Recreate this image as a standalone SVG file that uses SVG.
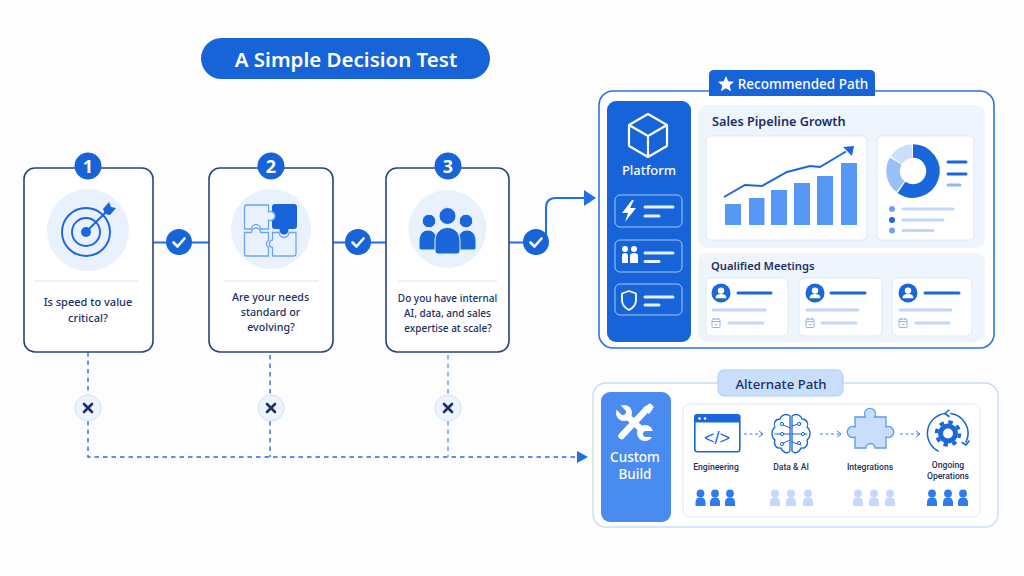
<svg xmlns="http://www.w3.org/2000/svg" width="1024" height="576" viewBox="0 0 1024 576">
<style>
text{font-family:"Noto Sans","Liberation Sans",sans-serif;font-weight:500;text-anchor:middle;fill:#1b2f63}
.card{fill:#fff;stroke:#27447f;stroke-width:1.6}
.halo{fill:#e9f1fd}
.div{stroke:#d3e2f8;stroke-width:1}
.q{font-size:10.7px}
.num{font-size:18px;font-weight:700;fill:#fff}
.badge{fill:#1763d8}
.solid{fill:none;stroke:#1f6fe6;stroke-width:2}
.dash{fill:none;stroke:#1f6fe6;stroke-width:1.4;stroke-dasharray:4.5 4}
.ok{fill:#1763d8}
.tick{fill:none;stroke:#fff;stroke-width:2.6;stroke-linecap:round;stroke-linejoin:round}
.xc{fill:#eef4fd;stroke:#cfe0f9;stroke-width:1}
.xm{fill:none;stroke:#1b2f63;stroke-width:2.6;stroke-linecap:round}
.ic{fill:none;stroke:#1a66db;stroke-width:1.6;stroke-linejoin:round;stroke-linecap:round}
.wl{fill:none;stroke:#fff;stroke-width:2.2;stroke-linecap:round;stroke-linejoin:round}
.sub{fill:#eff5fd}
.white{fill:#fff;stroke:#dce8fa;stroke-width:1}
.h{font-size:12.7px;font-weight:600;text-anchor:start}
.bar{fill:#5797f5}
.ld{stroke:#1a66db;stroke-width:3;stroke-linecap:round}
.ll{stroke:#c1d8fa;stroke-width:3;stroke-linecap:round}
.cal{fill:none;stroke:#8db5f0;stroke-width:1}
.small{font-family:Roboto,"Noto Sans",sans-serif;font-size:8.6px}
.arr{fill:none;stroke:#3b80ea;stroke-width:1;stroke-dasharray:3 2.5}
.arh{fill:none;stroke:#3b80ea;stroke-width:1}
.pz{fill:#e9f1fd;stroke:#6ea3f3;stroke-width:1.3}
</style>
<defs>
<marker id="tri" markerWidth="12" markerHeight="16" refX="0" refY="8" orient="auto" markerUnits="userSpaceOnUse"><path d="M0 0L12 8L0 16Z" fill="#1f6fe6"/></marker>
<marker id="tri2" markerWidth="11" markerHeight="12" refX="0" refY="6" orient="auto" markerUnits="userSpaceOnUse"><path d="M0 0L11 6L0 12Z" fill="#1f6fe6"/></marker>
<g id="avatar"><circle r="9.5" fill="#1a66db"/><circle cy="-2.4" r="3.2" fill="#fff"/><path d="M-5.4 5.2C-5.4 1.6-2.8 .9 0 .9S5.4 1.6 5.4 5.2Z" fill="#fff"/></g>
<g id="cal"><rect x="-4" y="-4" width="8" height="8.5" rx="1" class="cal"/><path d="M-4-1.5H4M-2-5.2V-3M2-5.2V-3M-1 1.5H1.5" class="cal"/></g>
<g id="one"><circle cy="-5.5" r="3.9"/><path d="M-5 7V3.500C-5-.2-2.600-1.500 0-1.500S5-.2 5 3.500V7Z"/></g>
</defs>
<rect width="1024" height="576" fill="#fdfdfe"/>

<g id="title"><rect x="201" y="38" width="289" height="41" rx="20.500" fill="#1763d8"/><text x="346" y="67" style="font-size:20.500px;font-weight:600;fill:#fff">A Simple Decision Test</text></g>

<g id="connectors">
<path class="solid" d="M153 242.500H209M333 242.500H386M509 242.500H536"/>
<path class="solid" d="M546 240V208Q546 198 556 198H584" marker-end="url(#tri)"/>
<path class="dash" d="M88 352V395M88 421V457H577" marker-end="url(#tri2)"/>
<path class="dash" d="M270 355V395M270 421V457"/>
<path class="dash" d="M448 355V395M448 421V457" style="stroke:#5f9bf3"/>
</g>

<g id="step1">
<rect class="card" x="24" y="168" width="129" height="184" rx="11"/>
<circle class="badge" cx="88" cy="166" r="13.500"/><text class="num" x="88" y="172.500">1</text>
<circle class="halo" cx="88" cy="230" r="41"/>
<g class="ic" style="stroke-width:1.900"><circle cx="86" cy="232" r="24"/><circle cx="86" cy="232" r="14"/><path d="M86 232L108 210"/></g>
<circle cx="86" cy="232" r="5" fill="#1a66db"/>
<path d="M103 209L109 202L111 207L116 208L110 215L105 214Z" fill="#1a66db"/>
<line class="div" x1="35" y1="281" x2="139" y2="281"/>
<text class="q" x="88" y="306" style="font-size:11px">Is speed to value</text><text class="q" x="88" y="321.500" style="font-size:11px">critical?</text>
</g>

<g id="step2">
<rect class="card" x="209" y="168" width="124" height="184" rx="11"/>
<circle class="badge" cx="271" cy="166" r="13.500"/><text class="num" x="271" y="172.500">2</text>
<circle class="halo" cx="271" cy="229" r="40"/>
<path class="pz" d="M272.500 232.500H279A5 5 0 0 0 289 232.500H296V253.500Q296 256 293.500 256H272.500V247.500A3.800 3.800 0 0 1 272.500 240Z"/>
<path class="pz" d="M244.500 232.500H251.500A4.500 4.500 0 0 1 260.500 232.500H268.500V240.500A3.500 3.500 0 0 0 268.500 247V256H247Q244.500 256 244.500 253.500Z"/>
<rect x="272" y="204" width="25" height="25" rx="3" fill="#1763d8"/>
<circle cx="284" cy="230" r="4.500" fill="#1763d8"/>
<path class="pz" d="M247 205H268.500V212A4.500 4.500 0 1 1 268.500 220V229H260.500A4.500 4.500 0 0 0 251.500 229H244.500V207.500Q244.500 205 247 205Z"/>
<line class="div" x1="224" y1="281" x2="319" y2="281"/>
<text class="q" x="270.500" y="301">Are your needs</text><text class="q" x="270.500" y="316">standard or</text><text class="q" x="271" y="331">evolving?</text>
</g>

<g id="step3">
<rect class="card" x="386" y="168" width="123" height="184" rx="11"/>
<circle class="badge" cx="448" cy="166" r="13.500"/><text class="num" x="448" y="172.500">3</text>
<circle class="halo" cx="447.500" cy="229" r="39"/>
<g fill="#1a66db" stroke="#e9f1fd" stroke-width="1">
<circle cx="429" cy="221" r="6.800"/><circle cx="466" cy="221" r="6.800"/>
<path d="M419 248V241C419 234 423 230 428 230S437 234 437 241V250H421Q419 250 419 248Z"/>
<path d="M476 248V241C476 234 472 230 467 230S458 234 458 241V250H474Q476 250 476 248Z"/>
<circle cx="447.500" cy="216" r="8.500"/>
<path d="M435 251V241C435 232 441 227.500 447.500 227.500S460 232 460 241V251Q460 254 457 254H438Q435 254 435 251Z"/>
</g>
<line class="div" x1="398" y1="281" x2="497" y2="281"/>
<text class="q" x="447.500" y="301.500" style="font-size:10px">Do you have internal</text><text class="q" x="447.500" y="317" style="font-size:10px">AI, data, and sales</text><text class="q" x="448" y="331.500" style="font-size:10px">expertise at scale?</text>
</g>

<g id="check1"><circle class="ok" cx="179" cy="242" r="13"/><path class="tick" d="M173.500 242.500L177.500 246.500L184.500 238.500"/></g>
<g id="check2"><circle class="ok" cx="358" cy="242" r="13"/><path class="tick" d="M352.500 242.500L356.500 246.500L363.500 238.500"/></g>
<g id="check3"><circle class="ok" cx="536" cy="242" r="13"/><path class="tick" d="M530.500 242.500L534.500 246.500L541.500 238.500"/></g>

<g id="cross1"><circle class="xc" cx="88" cy="408" r="13"/><path class="xm" d="M84 404L92 412M92 404L84 412"/></g>
<g id="cross2"><circle class="xc" cx="271" cy="408" r="13"/><path class="xm" d="M267 404L275 412M275 404L267 412"/></g>
<g id="cross3"><circle class="xc" cx="448" cy="408" r="13"/><path class="xm" d="M444 404L452 412M452 404L444 412"/></g>

<g id="recommended">
<rect x="599" y="91" width="395" height="257" rx="14" fill="#fff" stroke="#2a74e4" stroke-width="1.600"/>
<path d="M709 96V75Q709 70 714 70H870Q875 70 875 75V96Z" fill="#1763d8"/>
<path d="M726 76L728.300 81.300L734 81.800L729.700 85.600L731 91.200L726 88.300L721 91.200L722.300 85.600L718 81.800L723.700 81.300Z" fill="#fff"/>
<text x="803" y="89" style="font-size:13.500px;fill:#fff">Recommended Path</text>

<rect x="607" y="101" width="84" height="241" rx="9" fill="#1763d8"/>
<path class="wl" d="M648 114L667 125V146L648 157L629 146V125ZM629 125L648 136L667 125M648 136V157"/>
<text x="649" y="174.500" style="font-size:13px;fill:#fff">Platform</text>
<g fill="none" stroke="#a9c9f7" stroke-width="1"><rect x="615" y="195" width="67" height="32" rx="5"/><rect x="615" y="240" width="67" height="32" rx="5"/><rect x="615" y="284" width="67" height="31" rx="5"/></g>
<path d="M632 200L622 213H628L625 222L636 208H630L634 200Z" fill="#fff"/>
<g fill="#fff"><circle cx="625" cy="249" r="3"/><circle cx="634" cy="249" r="3"/><path d="M622 263V256Q622 253 625 253T628 256V263ZM630 263V256Q630 253 634 253T638 256V263Z"/></g>
<path class="wl" style="stroke-width:1.800" d="M629 291L636 293.500V300C636 305 633 308 629 310C625 308 622 305 622 300V293.500Z"/>
<path class="wl" style="stroke-width:3;stroke:#e6f0fe" d="M645 207H673M645 216H659M645 253H673M645 261.500H659M645 297H673M645 305H659"/>

<rect class="sub" x="698" y="105" width="287" height="143" rx="9"/>
<text class="h" x="712" y="126">Sales Pipeline Growth</text>
<rect class="white" x="706" y="136" width="161" height="104" rx="4"/>
<rect class="white" x="877" y="136" width="97" height="104" rx="4"/>
<rect class="bar" x="725" y="204" width="16" height="21"/><rect class="bar" x="749" y="198" width="15.500" height="27"/><rect class="bar" x="771" y="190" width="16" height="35"/><rect class="bar" x="794" y="183" width="16" height="42"/><rect class="bar" x="817" y="176" width="16" height="49"/><rect class="bar" x="841" y="163" width="16" height="62"/>
<path d="M724 197L745 185L762 186L787 172L810 166L820 167L846 151.500" fill="none" stroke="#1a66db" stroke-width="2"/>
<path d="M854 146L843 147L852 156Z" fill="#1a66db"/>
<g fill="none" stroke-width="13.500">
<path d="M913 151A20 20 0 1 1 901.500 187.400" stroke="#1a66db"/>
<path d="M900.500 186.600A20 20 0 0 1 895.700 161" stroke="#9ac0f8"/>
<path d="M896.500 160A20 20 0 0 1 912 151" stroke="#c9defb"/>
</g>
<g stroke-width="3" stroke-linecap="round"><path d="M948 162H966M948 174H966" stroke="#1a66db"/><path d="M948 185H960" stroke="#8fb8f6"/></g>
<circle cx="892" cy="209" r="3" fill="#6ea3f3"/><circle cx="892" cy="220" r="3" fill="#1a66db"/><circle cx="892" cy="230.500" r="3" fill="#6ea3f3"/>
<path class="ll" d="M903 209H953M903 220H943M903 230.500H933"/>

<rect class="sub" x="698" y="253" width="287" height="89" rx="9"/>
<text class="h" x="711" y="270" style="font-size:11.200px">Qualified Meetings</text>
<rect class="white" x="706" y="278" width="82" height="58" rx="5"/><rect class="white" x="799" y="278" width="83" height="58" rx="5"/><rect class="white" x="892" y="278" width="80" height="58" rx="5"/>
<use href="#avatar" x="721" y="293"/><use href="#avatar" x="815" y="293"/><use href="#avatar" x="908" y="293"/>
<path class="ld" d="M738 293H771M831 293H865M925 293H959"/>
<path class="ll" d="M713 310H765M807 310H858M900 310H951M729 323H763M822 323H856M916 323H949"/>
<use href="#cal" x="716" y="323"/><use href="#cal" x="810" y="323"/><use href="#cal" x="903" y="323"/>
</g>

<g id="alternate">
<rect x="593" y="383" width="405" height="144" rx="13" fill="#fff" stroke="#c6dbf8" stroke-width="1.300"/>
<rect x="718" y="370" width="125" height="26" rx="6" fill="#c9defb" stroke="#aecbf6" stroke-width="1"/>
<text x="781" y="389" style="font-size:13.200px">Alternate Path</text>
<rect x="601" y="392" width="70" height="130" rx="9" fill="#4a8bf0"/>
<g id="tools">
<path d="M646 410L621.500 436" stroke="#fff" stroke-width="6.500" stroke-linecap="round"/>
<path d="M644 408L650 404L653 407L649 413Z" fill="#fff" stroke="#fff" stroke-width="1.500" stroke-linejoin="round"/>
<path d="M624 413L645 433" stroke="#fff" stroke-width="6.500"/>
<circle cx="624" cy="413" r="8" fill="#fff"/><circle cx="645" cy="433" r="8" fill="#fff"/>
<path d="M623 412L616 405M646 434L655 434" stroke="#4a8bf0" stroke-width="6" stroke-linecap="round"/>
</g>
<text x="635" y="462" style="font-size:13.500px;fill:#fff">Custom</text><text x="635" y="479" style="font-size:13.500px;fill:#fff">Build</text>
<rect x="683" y="404" width="297" height="113" rx="7" fill="#fff" stroke="#dce8fa" stroke-width="1"/>

<rect x="694.800" y="414.800" width="45" height="37" rx="2.500" fill="#fff" stroke="#1a66db" stroke-width="1.600"/>
<path d="M694.800 422.500V417Q694.800 414.800 697 414.800H737.500Q739.800 414.800 739.800 417V422.500Z" fill="#1a66db"/>
<circle cx="699.500" cy="418.500" r="1.300" fill="#fff"/><circle cx="705" cy="418.500" r="1.300" fill="#fff"/>
<text x="717" y="443.500" style="font-size:18px;font-family:'Liberation Sans',sans-serif;font-weight:400;fill:#1a66db">&lt;/&gt;</text>
<text class="small" x="716" y="470">Engineering</text>
<path class="arr" d="M744 434H762"/><path class="arh" d="M759 431L763 434L759 437"/>

<path class="ic" style="stroke-width:1.300" d="M790 416C786 413 781 415 780 419C775 419 773 424 775 427C771 430 771 437 775 440C773 445 777 449 781 448C783 453 788 454 790 451ZM792 416C796 413 801 415 802 419C807 419 809 424 807 427C811 430 811 437 807 440C809 445 805 449 801 448C799 453 794 454 792 451Z"/>
<g class="ic" style="stroke-width:1"><path d="M775 434H790M781 424L790 428M781 444L790 440M792 434H807M792 426L801 423M792 442L801 445"/><circle cx="782" cy="424" r="1.600" fill="#fff"/><circle cx="782" cy="434" r="1.600" fill="#fff"/><circle cx="782" cy="444" r="1.600" fill="#fff"/><circle cx="799" cy="424" r="1.600" fill="#fff"/><circle cx="803" cy="434" r="1.600" fill="#fff"/><circle cx="799" cy="443" r="1.600" fill="#fff"/></g>
<text class="small" x="791" y="470">Data &amp; AI</text>
<path class="arr" d="M820 434H840"/><path class="arh" d="M837 431L841 434L837 437"/>

<path d="M855 417H865.500A5.500 5.500 0 1 1 874.500 417H886V427A5.500 5.500 0 1 1 886 437V448H875A4.500 4.500 0 0 0 866 448H855V437A5.500 5.500 0 1 1 855 427Z" fill="#c9defb" stroke="#5b9af5" stroke-width="1.300"/>
<text class="small" x="870" y="470">Integrations</text>
<path class="arr" d="M900 434H919"/><path class="arh" d="M916 431L920 434L916 437"/>

<circle cx="948" cy="433.500" r="11.500" fill="none" stroke="#1a66db" stroke-width="3.500" stroke-dasharray="4.500 4.530"/>
<circle cx="948" cy="433.500" r="7.500" fill="none" stroke="#1a66db" stroke-width="5"/>
<path class="ic" d="M945 413.500A20 20 0 0 0 938 451M951 413.500A20 20 0 0 1 966 442"/>
<path class="ic" d="M949 410L945 413.500L949 416.500M962 442.500L966 445L969 441"/>
<text class="small" x="948" y="468">Ongoing</text><text class="small" x="948" y="479">Operations</text>

<g fill="#2f7bea"><use href="#one" x="700.500" y="499"/><use href="#one" x="715" y="499"/><use href="#one" x="730" y="499"/></g>
<g fill="#c3d9f9"><use href="#one" x="775" y="499"/><use href="#one" x="791" y="499"/><use href="#one" x="808" y="499"/><use href="#one" x="858" y="499"/><use href="#one" x="874" y="499"/><use href="#one" x="890" y="499"/></g>
<g fill="#2f7bea"><use href="#one" x="932" y="499"/><use href="#one" x="948" y="499"/><use href="#one" x="963" y="499"/></g>
</g>
</svg>
